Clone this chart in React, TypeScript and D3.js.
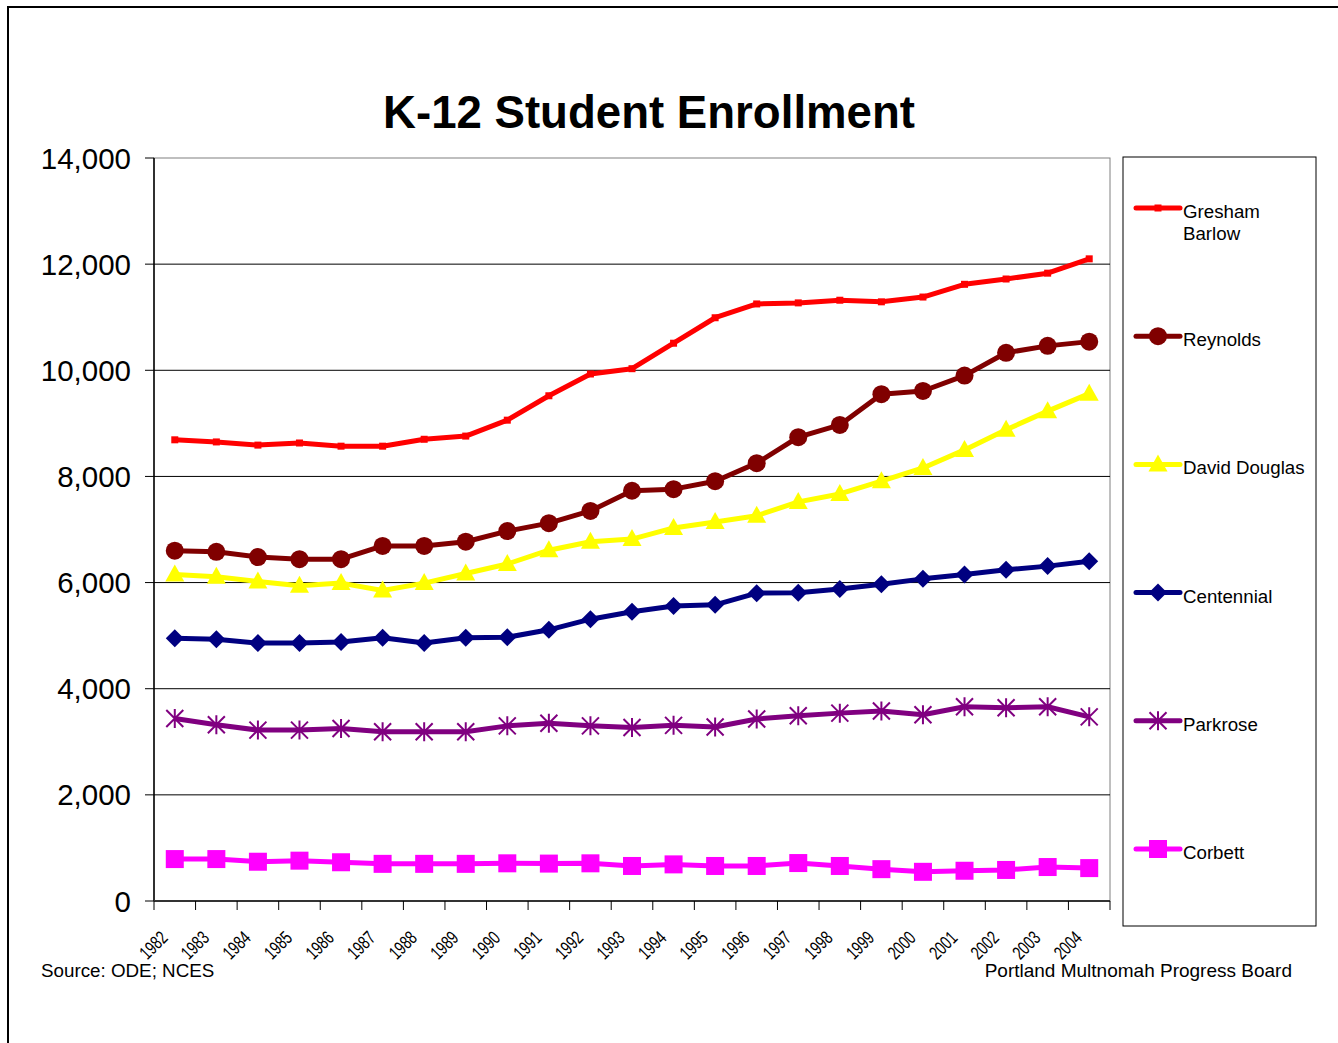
import { useEffect, useRef } from 'react';
import * as d3 from 'd3';

// category labels
const YEARS = ['1982', '1983', '1984', '1985', '1986', '1987', '1988', '1989', '1990', '1991', '1992', '1993',
  '1994', '1995', '1996', '1997', '1998', '1999', '2000', '2001', '2002', '2003', '2004'];

const Y_TICKS = [0, 2000, 4000, 6000, 8000, 10000, 12000, 14000];

// enrollment per district
const GRESHAM = [8690, 8650, 8590, 8630, 8570, 8570, 8700, 8760, 9060, 9520, 9930, 10030,
  10510, 10990, 11250, 11270, 11320, 11290, 11380, 11620, 11720, 11830, 12100];
const REYNOLDS = [6600, 6580, 6480, 6440, 6440, 6690, 6690, 6770, 6970, 7120, 7350, 7730,
  7760, 7910, 8250, 8740, 8970, 9550, 9610, 9900, 10330, 10460, 10540];
const DAVID_DOUGLAS = [6150, 6110, 6020, 5940, 5990, 5850, 5990, 6170, 6350, 6610, 6770, 6820,
  7030, 7140, 7260, 7520, 7670, 7910, 8160, 8500, 8880, 9230, 9560];
const CENTENNIAL = [4950, 4930, 4860, 4860, 4880, 4960, 4860, 4960, 4970, 5110, 5310, 5450,
  5560, 5580, 5800, 5810, 5880, 5970, 6070, 6150, 6240, 6310, 6400];
const PARKROSE = [3440, 3320, 3220, 3220, 3250, 3190, 3190, 3190, 3300, 3350, 3300, 3270,
  3310, 3280, 3430, 3490, 3540, 3580, 3510, 3660, 3640, 3660, 3470];
const CORBETT = [790, 790, 740, 760, 730, 700, 700, 700, 710, 705, 710, 660,
  690, 660, 660, 715, 660, 600, 550, 570, 585, 640, 620];

const SERIES = [
  { name: ['Gresham', 'Barlow'], values: GRESHAM, color: '#FF0000', marker: 'smallSquare' },
  { name: ['Reynolds'], values: REYNOLDS, color: '#800000', marker: 'circle' },
  { name: ['David Douglas'], values: DAVID_DOUGLAS, color: '#FFFF00', marker: 'triangle' },
  { name: ['Centennial'], values: CENTENNIAL, color: '#000080', marker: 'diamond' },
  { name: ['Parkrose'], values: PARKROSE, color: '#800080', marker: 'star' },
  { name: ['Corbett'], values: CORBETT, color: '#FF00FF', marker: 'square' },
];

const FONT = '"Liberation Sans", Arial, Helvetica, sans-serif';

function drawMarker(g, type, cx, cy, color) {
  if (type === 'circle') {
    g.append('circle').attr('cx', cx).attr('cy', cy).attr('r', 9).attr('fill', color);
  } else if (type === 'square') {
    g.append('rect').attr('x', cx - 9).attr('y', cy - 9).attr('width', 18).attr('height', 18).attr('fill', color);
  } else if (type === 'smallSquare') {
    g.append('rect').attr('x', cx - 3.5).attr('y', cy - 3.5).attr('width', 7).attr('height', 7).attr('fill', color);
  } else if (type === 'triangle') {
    const p = d3.path();
    p.moveTo(cx, cy - 10);
    p.lineTo(cx + 9.5, cy + 7);
    p.lineTo(cx - 9.5, cy + 7);
    p.closePath();
    g.append('path').attr('d', p.toString()).attr('fill', color);
  } else if (type === 'diamond') {
    const p = d3.path();
    p.moveTo(cx, cy - 9);
    p.lineTo(cx + 9, cy);
    p.lineTo(cx, cy + 9);
    p.lineTo(cx - 9, cy);
    p.closePath();
    g.append('path').attr('d', p.toString()).attr('fill', color);
  } else if (type === 'star') {
    const s = 8.5;
    const p = d3.path();
    p.moveTo(cx - s, cy - s); p.lineTo(cx + s, cy + s);
    p.moveTo(cx + s, cy - s); p.lineTo(cx - s, cy + s);
    p.moveTo(cx, cy - s - 1); p.lineTo(cx, cy + s + 1);
    g.append('path').attr('d', p.toString()).attr('stroke', color).attr('stroke-width', 2).attr('fill', 'none');
  }
}

export default function App() {
  const svgRef = useRef(null);

  useEffect(() => {
    const svg = d3.select(svgRef.current);
    svg.selectAll('*').remove();

    const left = 154, right = 1110, top = 158, bottom = 901;

    const x = d3.scaleBand().domain(YEARS).range([left, right]).paddingInner(0).paddingOuter(0);
    const y = d3.scaleLinear().domain([0, 14000]).range([bottom, top]);
    const cx = d => x(d) + x.bandwidth() / 2;

    // outer frame
    svg.append('rect')
      .attr('x', 8).attr('y', 7).attr('width', 1400).attr('height', 1200)
      .attr('fill', 'white').attr('stroke', '#000').attr('stroke-width', 2);

    // title
    svg.append('text')
      .attr('x', 649).attr('y', 128)
      .attr('text-anchor', 'middle')
      .style('font-family', FONT).style('font-size', '45.6px').style('font-weight', 'bold')
      .text('K-12 Student Enrollment');

    // plot area border
    svg.append('rect')
      .attr('x', left).attr('y', top).attr('width', right - left).attr('height', bottom - top)
      .attr('fill', 'none').attr('stroke', '#808080').attr('stroke-width', 1);

    // gridlines
    svg.append('g').selectAll('line')
      .data(Y_TICKS.filter(v => v > 0 && v < 14000))
      .enter().append('line')
      .attr('x1', left).attr('x2', right)
      .attr('y1', d => y(d)).attr('y2', d => y(d))
      .attr('stroke', '#000').attr('stroke-width', 1);

    // y axis
    const yAxis = svg.append('g');
    yAxis.append('line').attr('x1', left).attr('x2', left).attr('y1', top).attr('y2', bottom)
      .attr('stroke', '#000').attr('stroke-width', 1.5);
    yAxis.selectAll('line.tick').data(Y_TICKS).enter().append('line')
      .attr('class', 'tick')
      .attr('x1', left - 9).attr('x2', left).attr('y1', d => y(d)).attr('y2', d => y(d))
      .attr('stroke', '#000').attr('stroke-width', 1);
    yAxis.selectAll('text').data(Y_TICKS).enter().append('text')
      .attr('x', 131).attr('y', d => y(d) + 10.5)
      .attr('text-anchor', 'end')
      .style('font-family', FONT).style('font-size', '29.5px')
      .text(d => d3.format(',')(d));

    // x axis
    const xAxis = svg.append('g');
    xAxis.append('line').attr('x1', left).attr('x2', right).attr('y1', bottom).attr('y2', bottom)
      .attr('stroke', '#333').attr('stroke-width', 2);
    const bounds = YEARS.map(d => x(d)).concat([right]);
    xAxis.selectAll('line.tick').data(bounds).enter().append('line')
      .attr('class', 'tick')
      .attr('x1', d => d).attr('x2', d => d).attr('y1', bottom).attr('y2', bottom + 9)
      .attr('stroke', '#000').attr('stroke-width', 1);
    xAxis.selectAll('text').data(YEARS).enter().append('text')
      .attr('transform', d => `translate(${cx(d) - 6},${939}) rotate(-45) scale(0.72,1)`)
      .attr('text-anchor', 'end')
      .style('font-family', FONT).style('font-size', '19px')
      .text(d => d);

    // series
    const line = d3.line().x((d, i) => cx(YEARS[i])).y(d => y(d));
    SERIES.forEach(s => {
      const g = svg.append('g');
      g.append('path')
        .attr('d', line(s.values))
        .attr('fill', 'none').attr('stroke', s.color).attr('stroke-width', 5)
        .attr('stroke-linejoin', 'round');
      s.values.forEach((v, i) => drawMarker(g, s.marker, cx(YEARS[i]), y(v), s.color));
    });

    // legend
    const lg = svg.append('g');
    lg.append('rect').attr('x', 1123).attr('y', 157).attr('width', 193).attr('height', 769)
      .attr('fill', 'white').attr('stroke', '#000').attr('stroke-width', 1);
    SERIES.forEach((s, i) => {
      const ly = 208 + i * 128.2;
      lg.append('line').attr('x1', 1136).attr('x2', 1180).attr('y1', ly).attr('y2', ly)
        .attr('stroke', s.color).attr('stroke-width', 5).attr('stroke-linecap', 'round');
      drawMarker(lg, s.marker, 1158, ly, s.color);
      const t = lg.append('text').attr('x', 1183).attr('y', ly + 10)
        .style('font-family', FONT).style('font-size', '18.7px');
      s.name.forEach((n, j) => {
        t.append('tspan').attr('x', 1183).attr('dy', j === 0 ? 0 : 21.5).text(n);
      });
    });

    // footers
    svg.append('text').attr('x', 41).attr('y', 977)
      .style('font-family', FONT).style('font-size', '18.8px')
      .text('Source: ODE; NCES');
    svg.append('text').attr('x', 1292).attr('y', 977).attr('text-anchor', 'end')
      .style('font-family', FONT).style('font-size', '19px')
      .text('Portland Multnomah Progress Board');
  }, []);

  return (
    <svg
      ref={svgRef}
      width={1338}
      height={1043}
      style={{ position: 'absolute', left: 0, top: 0, display: 'block', background: 'white' }}
    />
  );
}
